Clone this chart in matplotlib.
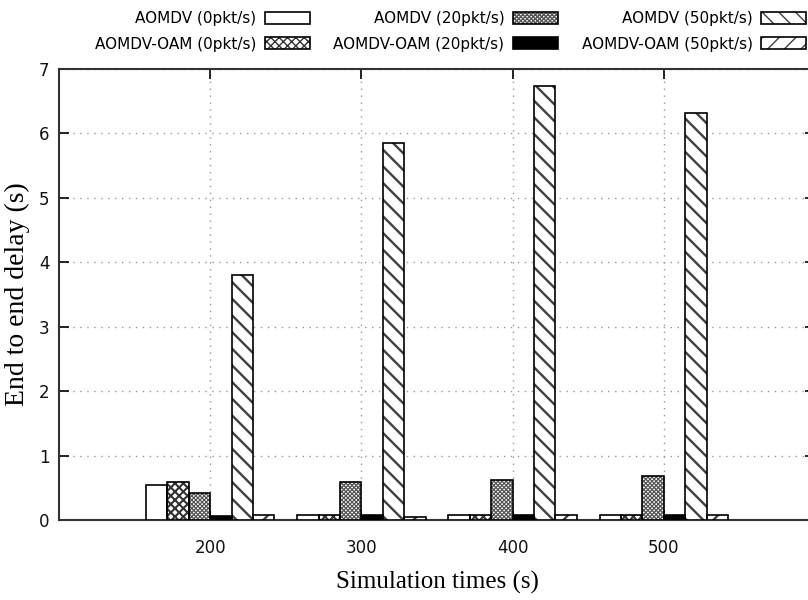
import matplotlib
matplotlib.use("Agg")
import matplotlib.pyplot as plt
from matplotlib.legend_handler import HandlerTuple
import numpy as np

times = [200, 300, 400, 500]
labels = ["AOMDV (0pkt/s)", "AOMDV-OAM (0pkt/s)", "AOMDV (20pkt/s)",
          "AOMDV-OAM (20pkt/s)", "AOMDV (50pkt/s)", "AOMDV-OAM (50pkt/s)"]
aomdv_0 = [0.54, 0.07, 0.075, 0.075]
oam_0 = [0.59, 0.075, 0.075, 0.075]
aomdv_20 = [0.42, 0.59, 0.615, 0.69]
oam_20 = [0.057, 0.08, 0.08, 0.08]
aomdv_50 = [3.80, 5.85, 6.73, 6.31]
oam_50 = [0.08, 0.05, 0.075, 0.077]
series = [aomdv_0, oam_0, aomdv_20, oam_20, aomdv_50, oam_50]

styles = [
    dict(facecolor="white", hatch=None, hlw=1.0, hc="#333333"),
    dict(facecolor="white", hatch="xxxx", hlw=1.5, hc="#333333"),
    dict(facecolor="white", hatch="xxxxxxxx", hlw=0.9, hc="#555555"),
    dict(facecolor="black", hatch=None, hlw=1.0, hc="#333333"),
    dict(facecolor="white", hatch="\\\\", hlw=1.7, hc="#404040"),
    dict(facecolor="white", hatch="//", hlw=1.7, hc="#404040"),
]

fig = plt.figure(figsize=(8.08, 6.0), dpi=100)
ax = fig.add_axes([59/808, 80/600, (815-59)/808, (520-69)/600])

width = 85/6
x = np.array(times, dtype=float)
handles = []
for i, (vals, st) in enumerate(zip(series, styles)):
    pos = x + (i - 2.5) * width
    with plt.rc_context({"hatch.linewidth": st["hlw"]}):
        fill = ax.bar(pos, vals, width=width, align="center",
                      facecolor=st["facecolor"], edgecolor=st["hc"], linewidth=0,
                      hatch=st["hatch"], zorder=3)
    outline = ax.bar(pos, vals, width=width, align="center", fill=False,
                     edgecolor="black", linewidth=1.2, zorder=4)
    handles.append((fill, outline))

ax.set_xlim(100, 600)
ax.set_ylim(0, 7)
ax.set_xticks(times)
ax.set_yticks(range(0, 8))
ax.grid(True, which="major", linestyle=(0, (1, 4)), color="#999999", linewidth=1.0, zorder=0)
ax.tick_params(direction="in", length=7, width=1.2, top=True, right=True,
               labelsize=12, labelcolor="#111111")
ax.tick_params(axis="x", pad=14)
ax.tick_params(axis="y", pad=7)
for s in ax.spines.values():
    s.set_linewidth(1.5)
    s.set_color("#333333")

ax.set_xlabel("Simulation times (s)", family="Liberation Serif", fontsize=18, labelpad=10)
ax.set_ylabel("End to end delay (s)", family="Liberation Serif", fontsize=20, labelpad=6)

leg = fig.legend(handles=handles, labels=labels, ncol=3, markerfirst=False,
                 handler_map={tuple: HandlerTuple(ndivide=1)},
                 loc="upper right", bbox_to_anchor=(806/808, 589/600),
                 frameon=False, fontsize=11, handlelength=2.95, handleheight=0.85,
                 handletextpad=0.55, columnspacing=1.55, labelspacing=0.7,
                 borderpad=0.0, borderaxespad=0.0)

fig.savefig("out.png", dpi=100)
